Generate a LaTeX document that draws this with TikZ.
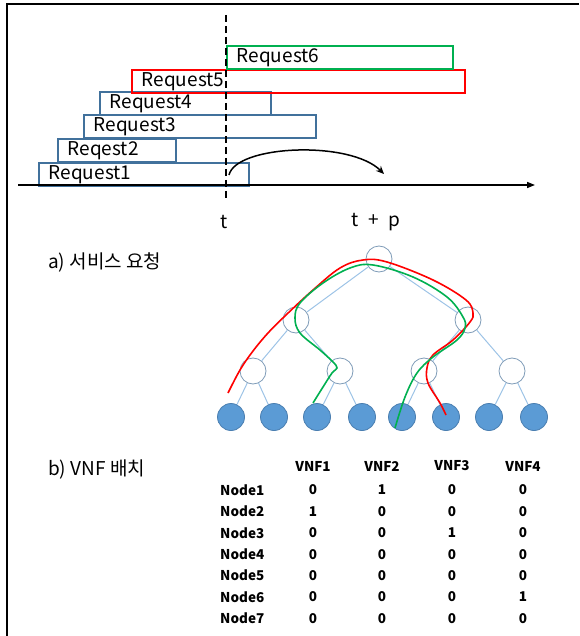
\documentclass[tikz,border=0pt]{standalone}
\usepackage{fontspec}
\setmainfont{Noto Sans CJK KR}
\usetikzlibrary{arrows.meta}

\definecolor{rqblue}{HTML}{41719C}
\definecolor{rqred}{HTML}{FF0000}
\definecolor{rqgreen}{HTML}{00B050}
\definecolor{edgeblue}{HTML}{9DC3E6}
\definecolor{ringblue}{HTML}{7F9CB8}
\definecolor{hostfill}{HTML}{5B9BD5}
\definecolor{hostline}{HTML}{4A7EB0}

\begin{document}
\begin{tikzpicture}[
  x=1pt, y=-1pt,
  font=\fontsize{19}{22}\selectfont,
  req/.style={draw, line width=1.6pt, anchor=north west, minimum height=23pt,
              inner xsep=10pt, inner ysep=0pt, align=left},
  lbl/.style={inner sep=0pt},
  vnode/.style={circle, draw=ringblue, fill=white, line width=0.8pt, minimum size=26pt, inner sep=0pt},
  host/.style={circle, draw=hostline, fill=hostfill, line width=0.8pt, minimum size=27pt, inner sep=0pt},
  lnk/.style={draw=edgeblue, line width=1pt},
  route/.style={line width=1.6pt, smooth, tension=0.6},
  tbl/.style={font=\fontsize{13.5}{15}\selectfont\bfseries, inner sep=0pt},
]
\useasboundingbox (0,0) rectangle (579,636);

% ---------------- Frame ----------------
\draw[line width=1.5pt] (7,636) -- (7,4) -- (579,4);

% ---------------- a) Request timeline ----------------
\node[req, draw=rqblue,  text width=190pt] (r1) at (38,162)  {Request1};
\node[req, draw=rqblue,  text width=98pt]  (r2) at (57,138)  {Reqest2};
\node[req, draw=rqblue,  text width=212pt] (r3) at (83,114)  {Request3};
\node[req, draw=rqblue,  text width=151pt] (r4) at (99,91)   {Request4};
\node[req, draw=rqred,   text width=313pt] (r5) at (131,69)  {Request5};
\node[req, draw=rqgreen, text width=206pt] (r6) at (226,45)  {Request6};

\coordinate (axs) at (18,185);
\coordinate (axe) at (535,185);
\draw[line width=1.5pt, -{Triangle[length=8pt, width=6pt]}] (axs) -- (axe);

\coordinate (ttop) at (226,15);
\coordinate (tbot) at (226,200);
\draw[line width=1.5pt, dash pattern=on 7pt off 4pt] (ttop) -- (tbot);

\coordinate (jmps) at (229,175);
\coordinate (jmpe) at (384,174);
\draw[line width=1.5pt, -{Stealth[length=8pt, width=7pt]}]
  (jmps) .. controls (236,145) and (350,140) .. (jmpe);

\node[lbl] (t)  at (224,222) {t};
\node[lbl] (tp) at (376,222) {t\enspace+\enspace p};
\node[lbl, anchor=west] (capa) at (48,262) {a) 서비스 요청};

% ---------------- Network tree ----------------
\node[vnode] (nd1) at (379,259) {};
\node[vnode] (nd2) at (296,320) {};
\node[vnode] (nd3) at (468,320) {};
\node[vnode] (nd4) at (253,371) {};
\node[vnode] (nd5) at (340,371) {};
\node[vnode] (nd6) at (424,371) {};
\node[vnode] (nd7) at (512,371) {};
\foreach \i/\x in {1/231, 2/274, 3/317, 4/362, 5/402, 6/446, 7/489, 8/534}
  \node[host] (h\i) at (\x,417) {};

\path[lnk] (nd1) -- (nd2) (nd1) -- (nd3)
           (nd2) -- (nd4) (nd2) -- (nd5) (nd3) -- (nd6) (nd3) -- (nd7)
           (nd4) -- (h1) (nd4) -- (h2) (nd5) -- (h3) (nd5) -- (h4)
           (nd6) -- (h5) (nd6) -- (h6) (nd7) -- (h7) (nd7) -- (h8);

% red route
\draw[route, rqred] plot coordinates {
  (228,393) (240,370) (253,351) (268,333) (286,315) (313,290) (340,268)
  (363,260) (387,262) (433,280) (466,300) (473,313) (470,322) (453,340)
  (433,355) (427,368) (428,383) (440,403) (446,415)};
% green route
\draw[route, rqgreen] plot coordinates {
  (313,403) (323,387) (332,373) (337,368) (333,362) (320,350) (300,333)
  (295,318) (300,303) (323,283) (350,268) (373,265) (413,277) (447,297)
  (463,317) (465,328) (457,340) (433,357) (417,373) (405,397) (395,428)};

% ---------------- b) VNF placement ----------------
\node[lbl, anchor=west] (capb) at (48,470) {b) VNF 배치};

\foreach \c/\x in {1/313, 2/382, 3/452, 4/523}
  \node[tbl] (hd\c) at (\x,466) {VNF\c};

\foreach \n/\a/\b/\c/\d [count=\i] in {Node1/0/1/0/0, Node2/1/0/0/0, Node3/0/0/1/0,
    Node4/0/0/0/0, Node5/0/0/0/0, Node6/0/0/0/1, Node7/0/0/0/0} {
  \node[tbl, anchor=west] (row\i) at (220,{468.5+21.4*\i}) {\n};
  \node[tbl] (v\i a) at (313,{468.5+21.4*\i}) {\a};
  \node[tbl] (v\i b) at (382,{468.5+21.4*\i}) {\b};
  \node[tbl] (v\i c) at (452,{468.5+21.4*\i}) {\c};
  \node[tbl] (v\i d) at (523,{468.5+21.4*\i}) {\d};
}

\end{tikzpicture}
\end{document}
